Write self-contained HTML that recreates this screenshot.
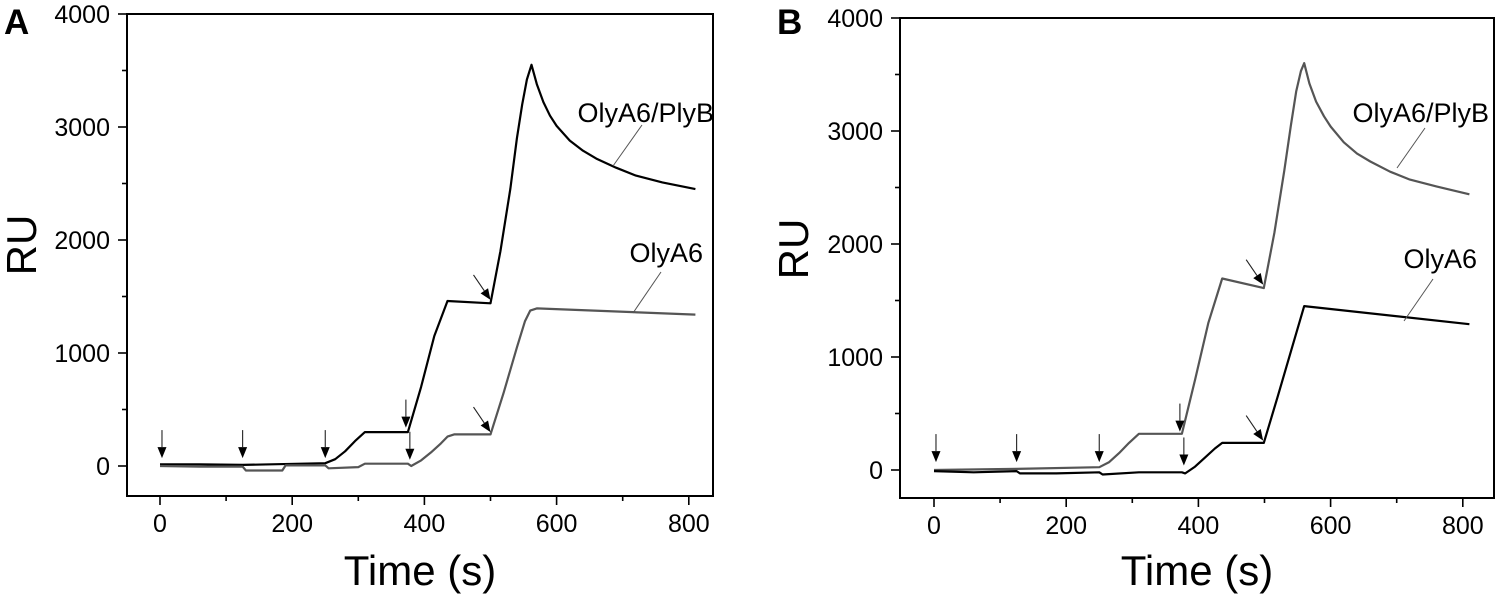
<!DOCTYPE html>
<html><head><meta charset="utf-8"><style>
html,body{margin:0;padding:0;background:#fff;}
svg{display:block;font-family:"Liberation Sans",Arial,sans-serif;}
</style></head><body>
<svg id="chart" width="1500" height="595" viewBox="0 0 1500 595">
<text x="4" y="34" font-size="35" font-weight="bold">A</text>
<text x="777" y="34" font-size="35" font-weight="bold">B</text>
<g id="pa"></g>
<g id="pb"></g>
</svg>
<script>
// Panel A data
const aTopT = [0,60,125,250,265,280,295,310,375,395,415,435,500,515,530,540,548,555,562,570,580,590,600,620,640,660,690,720,760,810];
const aTopV = [15,15,10,25,60,130,220,300,300,700,1150,1460,1440,1900,2450,2900,3200,3420,3550,3380,3220,3100,3010,2880,2790,2720,2640,2570,2510,2450];
const aBotT = [0,60,125,130,185,190,250,255,300,310,375,380,395,410,425,435,445,500,520,540,552,560,570,810];
const aBotV = [0,-5,-5,-40,-40,5,5,-20,-10,20,20,0,50,120,200,260,280,280,650,1050,1280,1375,1395,1340];
// Panel B data
const bTopT = [0,125,250,265,280,295,310,375,395,415,436,499,515,530,540,548,555,560,568,578,590,600,620,640,660,690,720,760,810];
const bTopV = [0,10,25,70,150,240,320,320,800,1300,1695,1610,2100,2650,3050,3350,3530,3600,3420,3260,3130,3040,2900,2800,2730,2640,2570,2510,2440];
const bBotT = [0,60,125,130,185,250,255,310,375,380,395,410,425,436,499,520,540,560,810];
const bBotV = [-10,-20,-10,-30,-30,-20,-40,-20,-20,-30,30,110,190,240,240,650,1050,1450,1290];
const xTicks = [0,200,400,600,800];
const yTicks = [0,1000,2000,3000,4000];
const aArrowT = [3,125,250,372,378]; const aArrowV = [70,70,70,340,55];
const bArrowT = [3,125,250,372,378]; const bArrowV = [70,70,70,340,40];
const aDiagT = [500,500]; const aDiagV = [1470,300];
const bDiagT = [498,498]; const bDiagV = [1640,260];

const NS="http://www.w3.org/2000/svg";
function mk(p,tag,at,txt){const e=document.createElementNS(NS,tag);for(const k in at)e.setAttribute(k,at[k]);if(txt!==undefined)e.textContent=txt;p.appendChild(e);return e;}

function panel(g,cfg){
  const X=t=>cfg.x0+t*cfg.sx, Y=v=>cfg.y0-v*cfg.sy;
  let fr=mk(g,'rect',{x:cfg.L,y:cfg.T,width:cfg.R-cfg.L,height:cfg.B-cfg.T,fill:'none',stroke:'#000','stroke-width':2});
  
  for(let v=0;v<=4000;v+=500){const l=mk(g,'line',{x1:cfg.L-(v%1000?5:9),x2:cfg.L,y1:Y(v),y2:Y(v),stroke:'#000','stroke-width':1.6});
    }
  yTicks.forEach(v=>{const t=mk(g,'text',{x:cfg.L-17,y:Y(v)+9,'font-size':25,'text-anchor':'end'},String(v));
    });
  for(let t=0;t<=800;t+=100){const l=mk(g,'line',{x1:X(t),x2:X(t),y1:cfg.B,y2:cfg.B+(t%200?5:9),stroke:'#000','stroke-width':1.6});
    }
  xTicks.forEach(t=>{const e=mk(g,'text',{x:X(t),y:cfg.B+36,'font-size':25,'text-anchor':'middle'},String(t));
    });
  const xt=mk(g,'text',{x:(cfg.L+cfg.R)/2,y:585,'font-size':42,'text-anchor':'middle'},'Time (s)');
  
  const yt=mk(g,'text',{x:0,y:0,'font-size':42,'text-anchor':'middle',transform:`translate(${cfg.ytx},${cfg.yty}) rotate(-90)`},'RU');
  
  [[cfg.topT,cfg.topV,cfg.topC,'olya6-plyb-curve'],[cfg.botT,cfg.botV,cfg.botC,'olya6-curve']].forEach(([T,V,c,n])=>{
    const d=T.map((t,i)=>(i?'L':'M')+X(t).toFixed(1)+','+Y(V[i]).toFixed(1)).join(' ');
    const p=mk(g,'path',{d:d,fill:'none',stroke:c,'stroke-width':2.2,'stroke-linejoin':'round'});
    });
  function arrow(x1,y1,x2,y2){const a=Math.atan2(y2-y1,x2-x1),h=11,w=4.5;
    const bx=x2-h*Math.cos(a),by=y2-h*Math.sin(a);
    const l=mk(g,'line',{x1:x1,y1:y1,x2:bx,y2:by,stroke:'#222','stroke-width':1.1});
    
    const pl=mk(g,'polygon',{points:`${x2},${y2} ${bx-w*Math.sin(a)},${by+w*Math.cos(a)} ${bx+w*Math.sin(a)},${by-w*Math.cos(a)}`,fill:'#000'});
    }
  cfg.arT.forEach((t,i)=>arrow(X(t),Y(cfg.arV[i])-28,X(t),Y(cfg.arV[i])));
  cfg.dT.forEach((t,i)=>arrow(X(t)-17,Y(cfg.dV[i])-25,X(t),Y(cfg.dV[i])));
  cfg.labels.forEach(L=>{const t=mk(g,'text',{x:L[0],y:L[1],'font-size':27,'text-anchor':'end'},L[2]);
    
    const l=mk(g,'line',{x1:L[3],y1:L[4],x2:L[5],y2:L[6],stroke:'#555','stroke-width':1});
    });
}
panel(document.getElementById('pa'),{L:127,R:713,T:14,B:496,x0:160,sx:0.661,y0:466,sy:0.113,ytx:36,yty:245,
  topT:aTopT,topV:aTopV,topC:'#000',botT:aBotT,botV:aBotV,botC:'#555',arT:aArrowT,arV:aArrowV,dT:aDiagT,dV:aDiagV,
  labels:[[714,122,'OlyA6/PlyB',642,125,613,166,'label-olya6-plyb'],[703,262,'OlyA6',661,272,633,313,'label-olya6']]});
panel(document.getElementById('pb'),{L:900,R:1494,T:18,B:498,x0:934,sx:0.661,y0:470,sy:0.113,ytx:808,yty:249,
  topT:bTopT,topV:bTopV,topC:'#555',botT:bBotT,botV:bBotV,botC:'#000',arT:bArrowT,arV:bArrowV,dT:bDiagT,dV:bDiagV,
  labels:[[1489,122,'OlyA6/PlyB',1425,128,1397,168,'label-olya6-plyb'],[1477,268,'OlyA6',1433,279,1404,321,'label-olya6']]});
</script>
</body></html>
